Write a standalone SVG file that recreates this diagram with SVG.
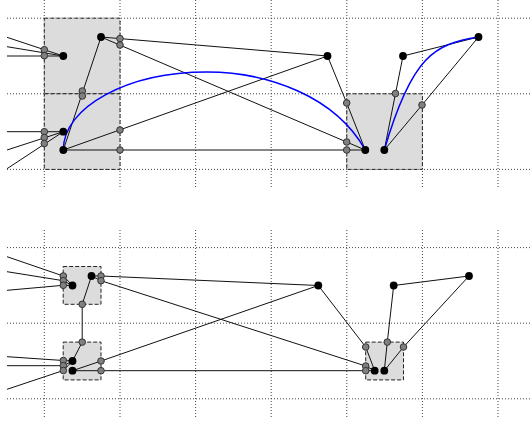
<svg xmlns="http://www.w3.org/2000/svg" width="532" height="425" viewBox="0 0 532 425">
  <style>
    .grid line { stroke: #444; stroke-width: 1; stroke-dasharray: 1 2; }
    .box { fill: #dcdcdc; stroke: #222; stroke-width: 1; stroke-dasharray: 4 2; }
    .edge { fill: none; stroke: #111; stroke-width: 1; }
    .curve { fill: none; stroke: #0000ff; stroke-width: 1.5; }
    .node { fill: #000; }
    .port { fill: #808080; stroke: #333; stroke-width: 1; }
  </style>
  <rect width="532" height="425" fill="#fff"/>

  <!-- background grids -->
  <g class="grid" id="grid-top">
    <line x1="44.3" y1="0" x2="44.3" y2="188"/>
    <line x1="120" y1="0" x2="120" y2="188"/>
    <line x1="195.6" y1="0" x2="195.6" y2="188"/>
    <line x1="271.2" y1="0" x2="271.2" y2="188"/>
    <line x1="346.8" y1="0" x2="346.8" y2="188"/>
    <line x1="422.4" y1="0" x2="422.4" y2="188"/>
    <line x1="498" y1="0" x2="498" y2="188"/>
    <line x1="7" y1="18.2" x2="532" y2="18.2"/>
    <line x1="7" y1="93.8" x2="532" y2="93.8"/>
    <line x1="7" y1="169.4" x2="532" y2="169.4"/>
  </g>
  <g class="grid" id="grid-bottom">
    <line x1="44.3" y1="230" x2="44.3" y2="418"/>
    <line x1="120" y1="230" x2="120" y2="418"/>
    <line x1="195.6" y1="230" x2="195.6" y2="418"/>
    <line x1="271.2" y1="230" x2="271.2" y2="418"/>
    <line x1="346.8" y1="230" x2="346.8" y2="418"/>
    <line x1="422.4" y1="230" x2="422.4" y2="418"/>
    <line x1="498" y1="230" x2="498" y2="418"/>
    <line x1="7" y1="247.6" x2="532" y2="247.6"/>
    <line x1="7" y1="323.2" x2="532" y2="323.2"/>
    <line x1="7" y1="398.8" x2="532" y2="398.8"/>
  </g>

  <!-- clusters -->
  <g id="cluster-t1"><rect class="box" x="44.3" y="18.2" width="75.7" height="75.6"/></g>
  <g id="cluster-t2"><rect class="box" x="44.3" y="93.8" width="75.7" height="75.6"/></g>
  <g id="cluster-t3"><rect class="box" x="346.8" y="93.8" width="75.6" height="75.6"/></g>
  <g id="cluster-b1"><rect class="box" x="63.2" y="266.5" width="37.8" height="37.8"/></g>
  <g id="cluster-b2"><rect class="box" x="63.2" y="342.1" width="37.8" height="37.8"/></g>
  <g id="cluster-b3"><rect class="box" x="365.7" y="342.1" width="37.8" height="37.8"/></g>

  <!-- connectors -->
  <g id="connectors">
    <!-- top layout -->
    <polyline class="edge" points="7,37.3 63.3,56"/>
    <polyline class="edge" points="7,46.7 63.3,56"/>
    <polyline class="edge" points="7,56 63.3,56"/>
    <polyline class="edge" points="7,131.7 63.3,131.7"/>
    <polyline class="edge" points="7,150 63.3,131.7"/>
    <polyline class="edge" points="7,168.7 63.3,131.7"/>
    <polyline class="edge" points="101,37 327.5,56"/>
    <polyline class="edge" points="101,37 365.3,150"/>
    <polyline class="edge" points="101,37 63.3,150"/>
    <polyline class="edge" points="63.3,150 327.5,56"/>
    <polyline class="edge" points="63.3,150 365.3,150"/>
    <polyline class="edge" points="327.5,56 346.7,103 365.3,150"/>
    <polyline class="edge" points="384.3,150 395.5,93.5 403,56"/>
    <polyline class="edge" points="403,56 478.5,37"/>
    <polyline class="edge" points="478.5,37 422,105 384.3,150"/>
    <path class="curve" d="M63.3,150 C63.3,106.9 127.6,72 207,72 C267,72 335.3,96 365.3,150"/>
    <path class="curve" d="M384.3,150 C412,55 435,44 478.5,37"/>

    <!-- bottom layout -->
    <polyline class="edge" points="7,256.7 63.3,276 72.5,285.5"/>
    <polyline class="edge" points="7,271.7 63.3,280.7 72.5,285.5"/>
    <polyline class="edge" points="7,290.3 63.3,285.3 72.5,285.5"/>
    <polyline class="edge" points="91.5,276 101,276 318.3,285.5"/>
    <polyline class="edge" points="91.5,276 101,280.7 365.7,366 374.7,370.7"/>
    <polyline class="edge" points="91.5,276 82.2,304.3 82.2,342.1 72.5,361"/>
    <polyline class="edge" points="72.5,370.7 101,361 318.3,285.5"/>
    <polyline class="edge" points="72.5,370.7 374.7,370.7"/>
    <polyline class="edge" points="7,356.7 63.3,360.5 72.5,361"/>
    <polyline class="edge" points="7,365.7 63.3,365.7 72.5,361"/>
    <polyline class="edge" points="7,389.3 63.3,370.5 72.5,361"/>
    <polyline class="edge" points="318.3,285.5 365.7,347 374.7,370.7"/>
    <polyline class="edge" points="393.7,285.5 469,276"/>
    <polyline class="edge" points="393.7,285.5 387.3,342.1 384.3,370.7"/>
    <polyline class="edge" points="469,276 403.5,347 384.3,370.7"/>
  </g>

  <!-- top nodes -->
  <g id="n-t-a"><circle class="node" cx="63.3" cy="56" r="3.9"/></g>
  <g id="n-t-b"><circle class="node" cx="101" cy="37" r="3.9"/></g>
  <g id="n-t-c"><circle class="node" cx="63.3" cy="131.7" r="3.9"/></g>
  <g id="n-t-d"><circle class="node" cx="63.3" cy="150" r="3.9"/></g>
  <g id="n-t-e"><circle class="node" cx="327.5" cy="56" r="3.9"/></g>
  <g id="n-t-f"><circle class="node" cx="403" cy="56" r="3.9"/></g>
  <g id="n-t-g"><circle class="node" cx="478.5" cy="37" r="3.9"/></g>
  <g id="n-t-h"><circle class="node" cx="365.3" cy="150" r="3.9"/></g>
  <g id="n-t-i"><circle class="node" cx="384.3" cy="150" r="3.9"/></g>

  <!-- top boundary ports -->
  <g id="ports-top">
    <circle class="port" cx="44.3" cy="49.7" r="3.3"/>
    <circle class="port" cx="44.3" cy="55.7" r="3.3"/>
    <circle class="port" cx="120" cy="38.6" r="3.3"/>
    <circle class="port" cx="120" cy="45" r="3.3"/>
    <circle class="port" cx="82.3" cy="91" r="3.3"/>
    <circle class="port" cx="82.3" cy="96" r="3.3"/>
    <circle class="port" cx="44.3" cy="131.7" r="3.3"/>
    <circle class="port" cx="44.3" cy="137.5" r="3.3"/>
    <circle class="port" cx="44.3" cy="143.5" r="3.3"/>
    <circle class="port" cx="120" cy="130" r="3.3"/>
    <circle class="port" cx="120" cy="150" r="3.3"/>
    <circle class="port" cx="346.7" cy="103" r="3.3"/>
    <circle class="port" cx="346.7" cy="142" r="3.3"/>
    <circle class="port" cx="346.7" cy="150" r="3.3"/>
    <circle class="port" cx="395.5" cy="93.5" r="3.3"/>
    <circle class="port" cx="422" cy="105" r="3.3"/>
  </g>

  <!-- bottom nodes -->
  <g id="n-b-a"><circle class="node" cx="72.5" cy="285.5" r="3.9"/></g>
  <g id="n-b-b"><circle class="node" cx="91.5" cy="276" r="3.9"/></g>
  <g id="n-b-c"><circle class="node" cx="72.5" cy="361" r="3.9"/></g>
  <g id="n-b-d"><circle class="node" cx="72.5" cy="370.7" r="3.9"/></g>
  <g id="n-b-e"><circle class="node" cx="318.3" cy="285.5" r="3.9"/></g>
  <g id="n-b-f"><circle class="node" cx="393.7" cy="285.5" r="3.9"/></g>
  <g id="n-b-g"><circle class="node" cx="469" cy="276" r="3.9"/></g>
  <g id="n-b-h"><circle class="node" cx="374.7" cy="370.7" r="3.9"/></g>
  <g id="n-b-i"><circle class="node" cx="384.3" cy="370.7" r="3.9"/></g>

  <!-- bottom boundary ports -->
  <g id="ports-bottom">
    <circle class="port" cx="63.3" cy="276" r="3.3"/>
    <circle class="port" cx="63.3" cy="280.7" r="3.3"/>
    <circle class="port" cx="63.3" cy="285.3" r="3.3"/>
    <circle class="port" cx="101" cy="276" r="3.3"/>
    <circle class="port" cx="101" cy="280.7" r="3.3"/>
    <circle class="port" cx="82.2" cy="304.3" r="3.3"/>
    <circle class="port" cx="82.2" cy="342.1" r="3.3"/>
    <circle class="port" cx="63.3" cy="360.5" r="3.3"/>
    <circle class="port" cx="63.3" cy="365.7" r="3.3"/>
    <circle class="port" cx="63.3" cy="370.5" r="3.3"/>
    <circle class="port" cx="101" cy="361" r="3.3"/>
    <circle class="port" cx="101" cy="370.7" r="3.3"/>
    <circle class="port" cx="365.7" cy="347" r="3.3"/>
    <circle class="port" cx="365.7" cy="366" r="3.3"/>
    <circle class="port" cx="365.7" cy="370.7" r="3.3"/>
    <circle class="port" cx="387.3" cy="342.1" r="3.3"/>
    <circle class="port" cx="403.5" cy="347" r="3.3"/>
  </g>
</svg>
